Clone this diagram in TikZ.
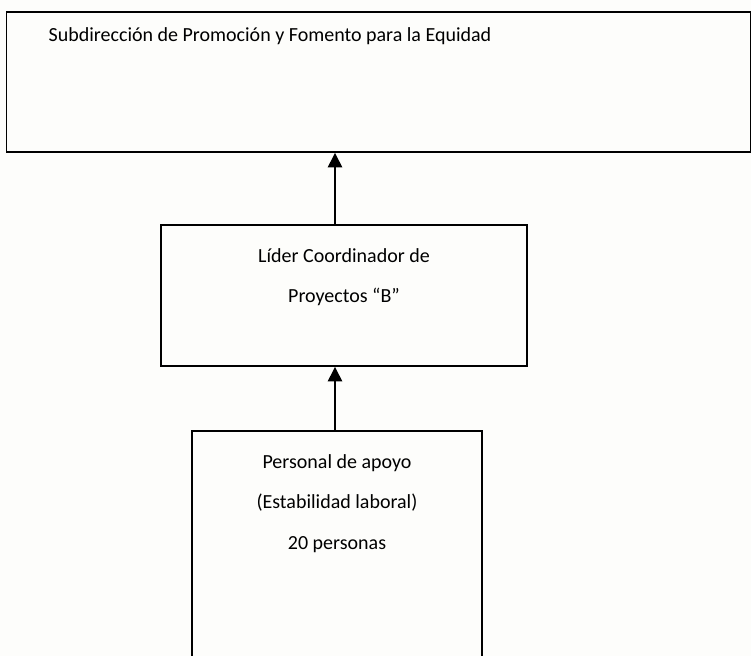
\documentclass[tikz,border=0pt]{standalone}
\usepackage{fontspec}
\setmainfont{Carlito}
\usetikzlibrary{positioning,arrows.meta}
\definecolor{paper}{RGB}{253,253,251}
\tikzset{
  box/.style={draw=black, line width=1.1pt, inner sep=0pt},
  boxtext/.style={anchor=north, align=center, inner sep=0pt, font=\fontsize{15pt}{30.5pt}\selectfont},
  link/.style={-{Triangle[length=11pt,width=10.5pt]}, line width=1.9pt}
}
\begin{document}
\begin{tikzpicture}[x=0.75pt, y=-0.75pt]
          % page and margins
          \fill[paper] (0,0) rectangle (751,656);
          \useasboundingbox (0,0) rectangle (751,656);

          % Define the boxes
          \node[box, minimum width=558pt, minimum height=105pt] (sub) at (378.5,82) {};
          \node[box, minimum width=274.5pt, minimum height=105.75pt] (lider) at (344,295.5) {};
          \node[box, minimum width=217.5pt, minimum height=180pt] (apoyo) at (337,551) {};

          % Texts of the boxes
          \node[boxtext] (subtext) at (270,27) {Subdirección de Promoción y Fomento para la Equidad};
          \node[boxtext] (lidertext) at (344,248) {Líder Coordinador de\\Proyectos “B”};
          \node[boxtext] (apoyotext) at (337,454) {Personal de apoyo\\(Estabilidad laboral)\\20 personas};

          % Arrows between the boxes
          \draw[link] (lider.north -| 335,0) -- (sub.south -| 335,0);
          \draw[link] (apoyo.north -| 335,0) -- (lider.south -| 335,0);
        \end{tikzpicture}
\end{document}
